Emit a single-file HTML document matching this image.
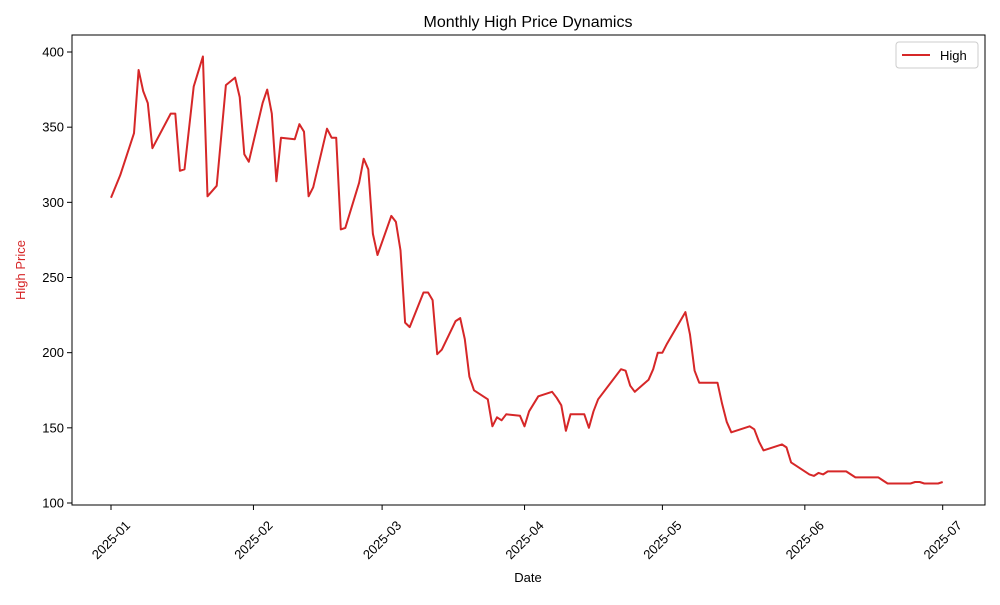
<!DOCTYPE html>
<html><head><meta charset="utf-8"><style>
body{margin:0;background:#fff}
svg text{font-family:"Liberation Sans","DejaVu Sans",sans-serif;fill:#000}
</style></head><body>
<svg id="chart" width="1000" height="600">
<rect width="1000" height="600" fill="#fff"/>
<text x="528" y="27" font-size="16" text-anchor="middle">Monthly High Price Dynamics</text>
<text x="528" y="582" font-size="13" text-anchor="middle">Date</text>
<text transform="translate(25,270) rotate(-90)" font-size="13" text-anchor="middle" style="fill:#d62728">High Price</text>
<g id="yticks"></g><g id="xticks"></g>
<polyline id="line" fill="none" stroke="#d62728" stroke-width="2" stroke-linejoin="round"/>
<rect x="72" y="35" width="913" height="470" fill="none" stroke="#000" stroke-width="1"/>
<g>
<rect x="896" y="42" width="82" height="26" rx="3" fill="#fff" stroke="#ccc"/>
<line x1="902" y1="55" x2="930" y2="55" stroke="#d62728" stroke-width="2"/>
<text x="940" y="60" font-size="13">High</text>
</g>
</svg>
<script>
const days=[0,2,5,6,7,8,9,13,14,15,16,18,20,21,23,25,27,28,29,30,33,34,35,36,37,40,41,42,43,44,47,48,49,50,51,54,55,56,57,58,61,62,63,64,65,68,69,70,71,72,75,76,77,78,79,82,83,84,85,86,89,90,91,93,96,97,98,99,100,103,104,105,106,111,112,113,114,117,118,119,120,121,125,126,127,128,132,133,134,135,139,140,141,142,146,147,148,152,153,154,155,156,160,161,162,167,168,169,174,175,176,177,180,181];
const highs=[303,318,346,388,374,366,336,359,359,321,322,377,397,304,311,378,383,370,332,327,366,375,359,314,343,342,352,347,304,310,349,343,343,282,283,313,329,322,279,265,291,287,268,220,217,240,240,235,199,202,221,223,209,184,175,169,151,157,155,159,158,151,161,171,174,170,165,148,159,159,150,161,169,189,188,178,174,182,189,200,200,206,227,212,188,180,180,166,154,147,151,149,141,135,139,137,127,119,118,120,119,121,121,119,117,117,115,113,113,114,114,113,113,114];
const yTicks=[100,150,200,250,300,350,400];
const xTickDays=[0,31,59,90,120,151,181];
const xTickLabels=["2025-01","2025-02","2025-03","2025-04","2025-05","2025-06","2025-07"];
const NS="http://www.w3.org/2000/svg";
const xs=d=>111+d*4.595, ys=v=>503-(v-100)*1.5033;
const yg=document.getElementById('yticks'), xg=document.getElementById('xticks');
yTicks.forEach(v=>{
  const l=document.createElementNS(NS,'line');
  l.setAttribute('x1',67);l.setAttribute('x2',72);l.setAttribute('y1',ys(v));l.setAttribute('y2',ys(v));l.setAttribute('stroke','#000');
  
  
  yg.appendChild(l);
  const t=document.createElementNS(NS,'text');
  t.setAttribute('x',64);t.setAttribute('y',ys(v)+4.5);t.setAttribute('font-size','13');t.setAttribute('text-anchor','end');t.textContent=v;
  
  
  yg.appendChild(t);
});
xTickDays.forEach((d,i)=>{
  const x=xs(d);
  const l=document.createElementNS(NS,'line');
  l.setAttribute('x1',x);l.setAttribute('x2',x);l.setAttribute('y1',505);l.setAttribute('y2',510);l.setAttribute('stroke','#000');
  
  
  xg.appendChild(l);
  const t=document.createElementNS(NS,'text');
  t.setAttribute('transform',`translate(${x},${540}) rotate(-45)`);t.setAttribute('y','4.5');t.setAttribute('font-size','13');t.setAttribute('text-anchor','middle');t.textContent=xTickLabels[i];
  
  
  xg.appendChild(t);
});
document.getElementById('line').setAttribute('points',days.map((d,i)=>xs(d).toFixed(1)+','+ys(highs[i]).toFixed(1)).join(' '));
</script>
</body></html>
